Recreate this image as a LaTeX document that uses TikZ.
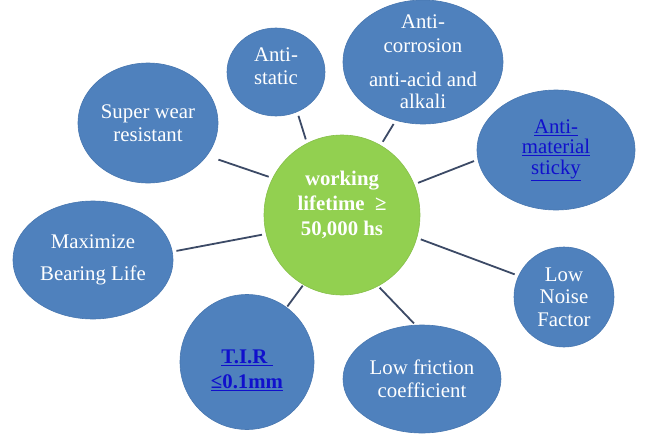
\documentclass[tikz,border=0pt]{standalone}
\usepackage{fontspec}
\setmainfont{Liberation Serif}
\usepackage{xcolor}
\usepackage{tikz}
\usetikzlibrary{shapes.geometric}
\definecolor{bubbleblue}{HTML}{4F81BD}
\definecolor{bubbleedge}{HTML}{4877B0}
\definecolor{hubgreen}{HTML}{92D050}
\definecolor{linkblue}{HTML}{1010CC}
\definecolor{spoke}{HTML}{3C4A66}

\begin{document}
\begin{tikzpicture}[x=1pt, y=-1pt,
    bubble/.style={ellipse, fill=bubbleblue, draw=bubbleedge, line width=0.6pt, inner sep=0pt},
    hub/.style={ellipse, fill=hubgreen, draw=hubgreen!92!black, line width=0.6pt, inner sep=0pt},
    txt/.style={text=white, align=center, inner sep=0pt, font=\fontsize{20.8}{23}\selectfont},
    link/.style={txt, text=linkblue},
    spokeline/.style={draw=spoke, line width=1.8pt, shorten <=4pt, shorten >=4pt}]
  \useasboundingbox (0,0) rectangle (646,445);
  \node[hub, minimum width=156pt, minimum height=160pt,
        label={[txt, font=\fontsize{20.8}{25}\selectfont\bfseries, yshift=10pt]center:{working\\lifetime~~≥\\50,000 hs}}] (life) at (342,215) {};
  \node[bubble, minimum width=140pt, minimum height=120pt,
        label={[txt]center:{Super wear\\resistant}}] (wear) at (148,123) {};
  \node[bubble, minimum width=98pt, minimum height=88pt,
        label={[txt, yshift=6pt]center:{Anti-\\static}}] (stat) at (276,72) {};
  \node[bubble, minimum width=160pt, minimum height=124pt,
        label={[txt, font=\fontsize{20.8}{22}\selectfont]center:{Anti-\\[2pt]corrosion\\[12pt]anti-acid and\\alkali}}] (corr) at (423,62) {};
  \node[bubble, minimum width=158pt, minimum height=120pt,
        label={[link, font=\fontsize{20.8}{20.5}\selectfont]center:{\underline{Anti-}\\\underline{material}\\\underline{sticky}}}] (mat) at (556,150) {};
  \node[bubble, minimum width=160pt, minimum height=118pt,
        label={[txt]center:{Maximize\\[9pt]Bearing Life}}] (bear) at (93,260) {};
  \node[bubble, minimum width=100pt, minimum height=100pt,
        label={[txt, font=\fontsize{20.8}{22.5}\selectfont]center:{Low\\Noise\\Factor}}] (noise) at (564,297) {};
  \node[bubble, minimum width=134pt, minimum height=135pt,
        label={[link, font=\fontsize{20.8}{25}\selectfont\bfseries, yshift=-8pt]center:{\underline{T.I.R\ }\\\underline{≤0.1mm}}}] (tir) at (247,362) {};
  \node[bubble, minimum width=158pt, minimum height=108pt,
        label={[txt]center:{Low friction\\coefficient}}] (fric) at (422,379) {};

  \draw[spokeline, shorten >=12pt] (life.152) -- (wear.-29);
  \draw[spokeline] (life.116) -- (stat.-62);
  \draw[spokeline] (life.61) -- (corr.-115);
  \draw[spokeline] (life.23) -- (mat.187);
  \draw[spokeline] (life.-166) -- (bear.6);
  \draw[spokeline] (life.-17) -- (noise.155);
  \draw[spokeline, shorten <=1pt, shorten >=1pt] (life.-119) -- (tir.54);
  \draw[spokeline, shorten <=2pt, shorten >=2pt] (life.-63) -- (fric.97);
\end{tikzpicture}
\end{document}
